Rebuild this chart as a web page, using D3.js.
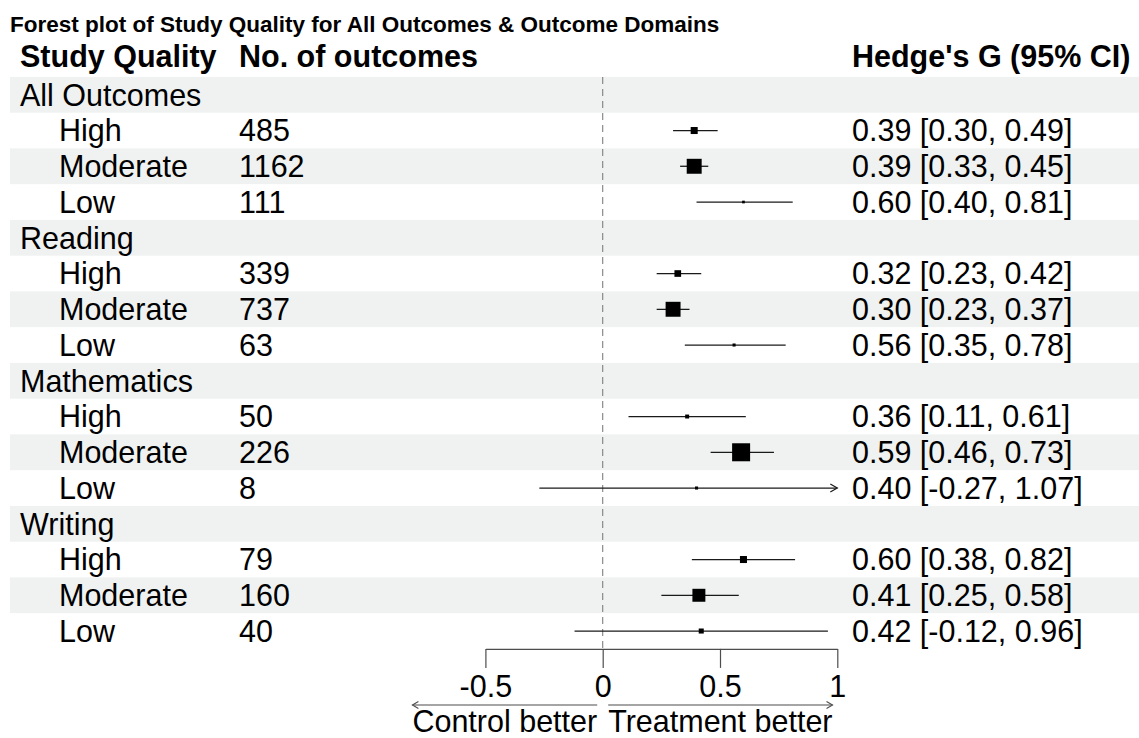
<!DOCTYPE html>
<html>
<head>
<meta charset="utf-8">
<script src="https://cdn.jsdelivr.net/npm/d3@7"></script>
<style>
  html, body { margin: 0; padding: 0; background: #ffffff; }
  svg { display: block; }
  text { font-family: "Liberation Sans", Arial, Helvetica, sans-serif; fill: #000; }
</style>
</head>
<body>
<svg id="chart" width="1139" height="738"></svg>
<script>
// ---------------- data ----------------
const chartTitle = "Forest plot of Study Quality for All Outcomes & Outcome Domains";
const headers = ["Study Quality", "No. of outcomes", "Hedge's G (95% CI)"];
const groups = ["All Outcomes", "Reading", "Mathematics", "Writing"];
const qualityLevels = ["High", "Moderate", "Low"];
const counts = [485, 1162, 111, 339, 737, 63, 50, 226, 8, 79, 160, 40];
const estimates = [0.39, 0.39, 0.60, 0.32, 0.30, 0.56, 0.36, 0.59, 0.40, 0.60, 0.41, 0.42];
const lowers = [0.30, 0.33, 0.40, 0.23, 0.23, 0.35, 0.11, 0.46, -0.27, 0.38, 0.25, -0.12];
const uppers = [0.49, 0.45, 0.81, 0.42, 0.37, 0.78, 0.61, 0.73, 1.07, 0.82, 0.58, 0.96];
// relative study weight (box size)
const boxWeights = [0.39, 0.83, 0.15, 0.37, 0.83, 0.17, 0.22, 1.0, 0.17, 0.39, 0.72, 0.28];
const xTicks = [-0.5, 0, 0.5, 1];
const xTickLabels = ["-0.5", "0", "0.5", "1"];
const arrowLabels = ["Control better", "Treatment better"];

// ---------------- build rows ----------------
const rows = [];
let k = 0;
groups.forEach(g => {
  rows.push({type: "group", label: g});
  qualityLevels.forEach(q => {
    rows.push({
      type: "item", label: q, n: counts[k], est: estimates[k], lo: lowers[k], hi: uppers[k], w: boxWeights[k],
      ci: estimates[k].toFixed(2) + " [" + lowers[k].toFixed(2) + ", " + uppers[k].toFixed(2) + "]"
    });
    k++;
  });
});

const svg = d3.select("#chart");
const FS = 30.5;

const y = d3.scaleBand().domain(d3.range(rows.length)).range([76.9, 648.9]).padding(0);
const x = d3.scaleLinear().domain([-0.5, 1]).range([485.4, 837.3]);
const size = d3.scaleLinear().domain([0, 1]).range([0, 18]);

// title
svg.append("text").attr("x", 10).attr("y", 32)
  .style("font-size", "22.5px").style("font-weight", "bold").text(chartTitle);

// headers
const colX = [20, 239, 852];
headers.forEach((h, i) => {
  svg.append("text").attr("x", colX[i]).attr("y", 66.5)
    .style("font-size", FS + "px").style("font-weight", "bold").text(h);
});

// stripes
svg.append("g").selectAll("rect")
  .data(rows.map((r, i) => i).filter(i => i % 2 === 0))
  .join("rect")
  .attr("x", 10).attr("width", 1139 - 10)
  .attr("y", i => y(i)).attr("height", y.bandwidth())
  .attr("fill", "#eff2f1");

// text cells
const tg = svg.append("g").style("font-size", FS + "px");
rows.forEach((r, i) => {
  const by = y(i) + y.bandwidth() / 2 + 10.9;
  if (r.type === "group") {
    tg.append("text").attr("x", 20).attr("y", by).text(r.label);
  } else {
    tg.append("text").attr("x", 59).attr("y", by).text(r.label);
    tg.append("text").attr("x", colX[1]).attr("y", by).text(r.n);
    tg.append("text").attr("x", colX[2]).attr("y", by).text(r.ci);
  }
});

// reference line at 0
svg.append("line")
  .attr("x1", x(0)).attr("x2", x(0))
  .attr("y1", y(0)).attr("y2", y.range()[1])
  .attr("stroke", "#808080").attr("stroke-width", 1.1)
  .attr("stroke-dasharray", "7,5");

// CI lines and boxes
const pg = svg.append("g");
const [dMin, dMax] = x.domain();
rows.forEach((r, i) => {
  if (r.type !== "item") return;
  const cy = y(i) + y.bandwidth() / 2;
  const lo = Math.max(r.lo, dMin), hi = Math.min(r.hi, dMax);
  pg.append("line")
    .attr("x1", x(lo)).attr("x2", x(hi)).attr("y1", cy).attr("y2", cy)
    .attr("stroke", "#1a1a1a").attr("stroke-width", 1.3);
  if (r.hi > dMax) {
    const ax = x(dMax);
    pg.append("path")
      .attr("d", `M${ax - 7},${cy - 4}L${ax},${cy}L${ax - 7},${cy + 4}`)
      .attr("fill", "none").attr("stroke", "#1a1a1a").attr("stroke-width", 1.2);
  }
  if (r.lo < dMin) {
    const ax = x(dMin);
    pg.append("path")
      .attr("d", `M${ax + 7},${cy - 4}L${ax},${cy}L${ax + 7},${cy + 4}`)
      .attr("fill", "none").attr("stroke", "#1a1a1a").attr("stroke-width", 1.2);
  }
  const s = size(r.w);
  pg.append("rect")
    .attr("x", x(r.est) - s / 2).attr("y", cy - s / 2)
    .attr("width", s).attr("height", s).attr("fill", "#000");
});

// x axis
const axisY = y.range()[1];
const axis = d3.axisBottom(x).tickValues(xTicks)
  .tickFormat((d, i) => xTickLabels[i])
  .tickSize(19).tickSizeOuter(0).tickPadding(7);
const ag = svg.append("g").attr("transform", `translate(0,${axisY})`).call(axis);
ag.select(".domain").attr("stroke", "#4d4d4d").attr("stroke-width", 1.2);
ag.selectAll(".tick line").attr("stroke", "#4d4d4d").attr("stroke-width", 1.2);
ag.selectAll(".tick text")
  .style("font-size", FS + "px")
  .style("font-family", "'Liberation Sans', Arial, Helvetica, sans-serif")
  .attr("fill", "#000");

// arrows with labels
const arrowY = 705, labelY = 731.5, gap = 5.5;
const lt = svg.append("text").attr("x", x(0) - gap).attr("y", labelY)
  .attr("text-anchor", "end").style("font-size", FS + "px").text(arrowLabels[0]);
const rt = svg.append("text").attr("x", x(0) + gap).attr("y", labelY)
  .attr("text-anchor", "start").style("font-size", FS + "px").text(arrowLabels[1]);
const lw = lt.node().getComputedTextLength();
const rw = rt.node().getComputedTextLength();
const l0 = x(0) - gap, l1 = x(0) - gap - lw;
const r0 = x(0) + gap, r1 = x(0) + gap + rw;
const arrowG = svg.append("g").attr("stroke", "#4d4d4d").attr("stroke-width", 1.1).attr("fill", "none");
arrowG.append("line").attr("x1", l0).attr("x2", l1).attr("y1", arrowY).attr("y2", arrowY);
arrowG.append("path").attr("d", `M${l1 + 6},${arrowY - 3.5}L${l1},${arrowY}L${l1 + 6},${arrowY + 3.5}`);
arrowG.append("line").attr("x1", r0).attr("x2", r1).attr("y1", arrowY).attr("y2", arrowY);
arrowG.append("path").attr("d", `M${r1 - 6},${arrowY - 3.5}L${r1},${arrowY}L${r1 - 6},${arrowY + 3.5}`);
</script>
</body>
</html>
